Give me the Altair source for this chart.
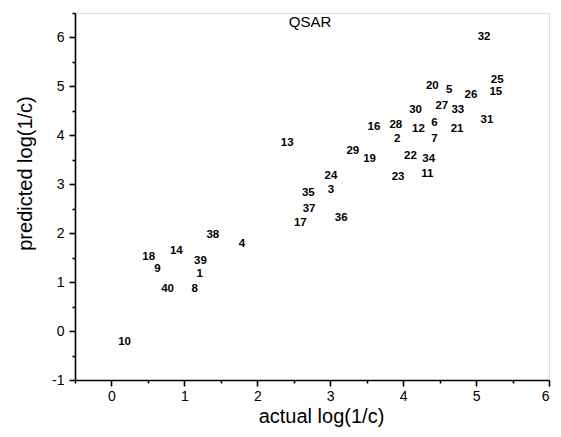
import altair as alt
import pandas as pd

ids = ["32", "25", "15", "20", "5", "26", "27", "33", "30", "31",
       "6", "28", "16", "12", "21", "2", "7", "13", "29", "19",
       "22", "34", "11", "23", "24", "3", "35", "37", "36", "17",
       "38", "4", "14", "18", "39", "9", "1", "40", "8", "10"]
actual = [5.11, 5.29, 5.27, 4.40, 4.63, 4.93, 4.53, 4.75, 4.17, 5.15,
          4.43, 3.90, 3.60, 4.21, 4.74, 3.92, 4.43, 2.41, 3.31, 3.54,
          4.10, 4.35, 4.33, 3.93, 3.01, 3.01, 2.70, 2.71, 3.15, 2.59,
          1.39, 1.79, 0.89, 0.51, 1.22, 0.63, 1.21, 0.77, 1.14, 0.18]
predicted = [6.01, 5.13, 4.88, 5.01, 4.92, 4.82, 4.60, 4.52, 4.52, 4.31,
             4.26, 4.22, 4.18, 4.12, 4.12, 3.93, 3.92, 3.85, 3.68, 3.51,
             3.57, 3.51, 3.22, 3.14, 3.17, 2.88, 2.83, 2.50, 2.32, 2.20,
             1.96, 1.78, 1.63, 1.52, 1.43, 1.27, 1.16, 0.86, 0.86, -0.22]

x_ticks = [v / 2 for v in range(-1, 13)]
y_ticks = [v / 2 for v in range(-2, 14)]

df = pd.DataFrame({"id": ids, "actual": actual, "predicted": predicted})

FONT = "Liberation Sans"
minor_test = "datum.value % 1 != 0"
label_expr = "datum.value % 1 != 0 ? '' : '' + datum.value"

x_axis = alt.Axis(
    values=x_ticks, labelExpr=label_expr,
    grid=False, domainColor="black", domainWidth=1.6,
    tickColor="black", tickWidth=1.6,
    tickSize={"condition": {"test": minor_test, "value": 3}, "value": 6},
    labelFont=FONT, labelFontSize=14, labelColor="black", labelPadding=3,
    title="actual log(1/c)", titleFont=FONT, titleFontSize=20,
    titleFontWeight="normal", titleColor="black",
    titleX=246, titleY=26,
)
y_axis = alt.Axis(
    values=y_ticks, labelExpr=label_expr,
    grid=False, domainColor="black", domainWidth=1.6,
    tickColor="black", tickWidth=1.6,
    tickSize={"condition": {"test": minor_test, "value": 3}, "value": 6},
    labelFont=FONT, labelFontSize=14, labelColor="black", labelPadding=5,
    title="predicted log(1/c)", titleFont=FONT, titleFontSize=20,
    titleFontWeight="normal", titleColor="black",
    titleX=-40, titleY=160,
)

points = alt.Chart(df).mark_text(
    font=FONT, fontSize=11.5, fontWeight="bold", color="black"
).encode(
    x=alt.X("actual:Q", scale=alt.Scale(domain=[-0.5, 6], nice=False, zero=False), axis=x_axis),
    y=alt.Y("predicted:Q", scale=alt.Scale(domain=[-1, 6.5], nice=False, zero=False), axis=y_axis),
    text="id:N",
)

title = alt.Chart(pd.DataFrame({"t": ["QSAR"]})).mark_text(
    font=FONT, fontSize=15, color="black"
).encode(x=alt.value(235), y=alt.value(9), text="t:N")

chart = alt.layer(points, title).properties(
    width=474, height=367,
    autosize=alt.AutoSizeParams(type="none"),
    padding={"left": 67, "top": 5, "right": 4, "bottom": 49},
).configure_view(stroke=None).configure(background="white")

chart.save("out.html", embed_options={"renderer": "svg", "actions": False})
